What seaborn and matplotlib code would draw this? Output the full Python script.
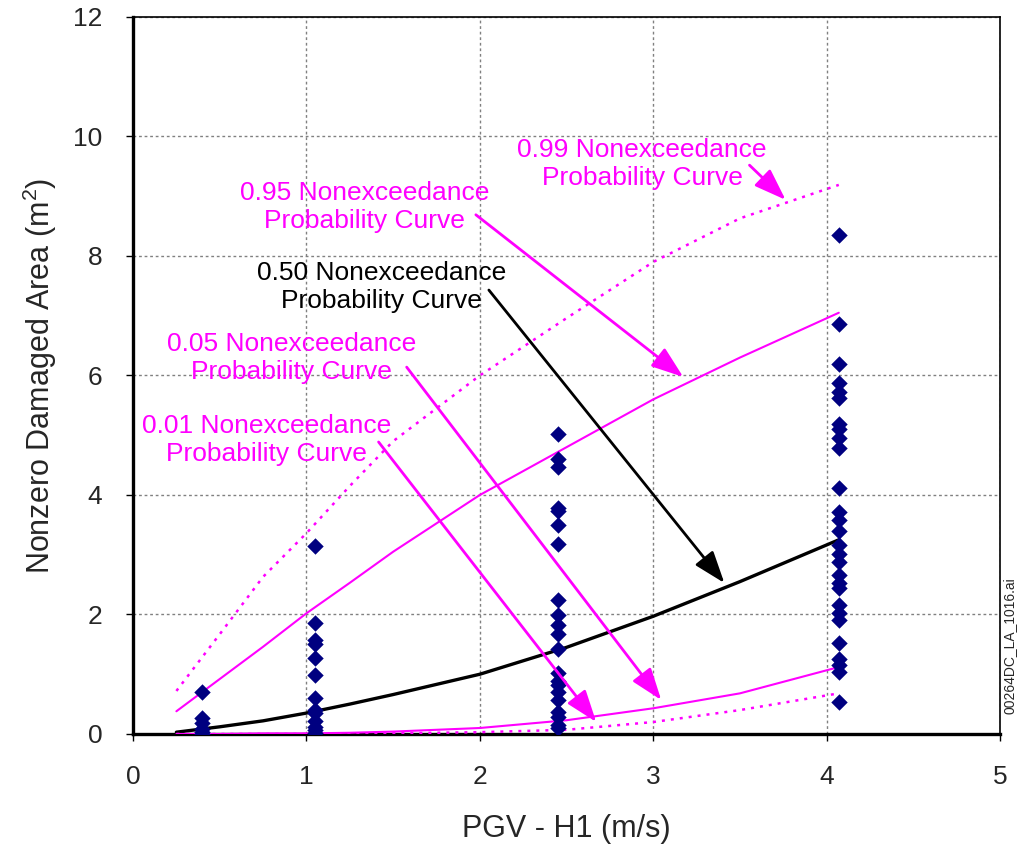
import matplotlib
matplotlib.use("Agg")
import matplotlib.pyplot as plt
import pandas as pd
import seaborn as sns

# PGV sites where damaged area was recorded
pgv_sites = [0.40, 1.05, 2.45, 4.07]
area_site1 = [0.71, 0.27, 0.18, 0.08, 0.03, 0.0]
area_site2 = [3.15, 1.85, 1.57, 1.50, 1.27, 0.99, 0.60, 0.40, 0.35, 0.22,
              0.12, 0.07, 0.02]
area_site3 = [5.02, 4.61, 4.46, 3.78, 3.74, 3.50, 3.18, 2.25, 1.99, 1.82,
              1.67, 1.43, 1.02, 0.88, 0.82, 0.71, 0.57, 0.36, 0.29, 0.15,
              0.10]
area_site4 = [8.35, 6.86, 6.19, 5.87, 5.73, 5.62, 5.19, 5.10, 4.95, 4.78,
              4.11, 3.72, 3.58, 3.39, 3.16, 3.02, 2.88, 2.66, 2.52, 2.44,
              2.16, 2.02, 1.91, 1.52, 1.25, 1.15, 1.04, 0.54]

# nonexceedance probability curves
curve_pgv = [0.25, 0.5, 0.75, 1.0, 1.25, 1.5, 2.0, 2.5, 3.0, 3.5, 4.07]
curve_p01 = [0.0, 0.0, 0.0, 0.0, 0.0, 0.01, 0.03, 0.07, 0.20, 0.40, 0.68]
curve_p05 = [0.0, 0.0, 0.01, 0.01, 0.02, 0.04, 0.10, 0.23, 0.43, 0.68, 1.12]
curve_p50 = [0.03, 0.12, 0.22, 0.35, 0.50, 0.66, 1.00, 1.45, 1.97, 2.55, 3.25]
curve_p95 = [0.38, 0.92, 1.46, 2.02, 2.53, 3.05, 4.00, 4.80, 5.60, 6.30, 7.05]
curve_p99 = [0.72, 1.67, 2.63, 3.36, 4.15, 4.90, 6.00, 6.96, 7.90, 8.63, 9.19]

x_ticks = [0, 1, 2, 3, 4, 5]
y_ticks = [0, 2, 4, 6, 8, 10, 12]

MAGENTA = "#FF00FF"
NAVY = "#000080"


def build_points() -> pd.DataFrame:
    rows = []
    for pgv, areas in zip(pgv_sites, [area_site1, area_site2, area_site3, area_site4]):
        for a in areas:
            rows.append({"pgv": pgv, "area": a})
    return pd.DataFrame(rows)


def main() -> None:
    sns.set_style("white")
    plt.rcParams["font.family"] = ["Liberation Sans", "DejaVu Sans"]
    plt.rcParams["mathtext.fontset"] = "custom"
    plt.rcParams["mathtext.rm"] = "Liberation Sans"

    fig = plt.figure(figsize=(10.21, 8.5), dpi=100)
    ax = fig.add_axes([0.1303, 0.1365, 0.8492, 0.8435])

    curves = pd.DataFrame({
        "pgv": curve_pgv,
        "p01": curve_p01,
        "p05": curve_p05,
        "p50": curve_p50,
        "p95": curve_p95,
        "p99": curve_p99,
    })
    dot = (0, (1.2, 2.4))
    sns.lineplot(data=curves, x="pgv", y="p99", ax=ax, color=MAGENTA, lw=1.8,
                 linestyle=dot, zorder=3)
    sns.lineplot(data=curves, x="pgv", y="p95", ax=ax, color=MAGENTA, lw=1.5, zorder=3)
    sns.lineplot(data=curves, x="pgv", y="p50", ax=ax, color="black", lw=2.4, zorder=3)
    sns.lineplot(data=curves, x="pgv", y="p05", ax=ax, color=MAGENTA, lw=1.5, zorder=3)
    sns.lineplot(data=curves, x="pgv", y="p01", ax=ax, color=MAGENTA, lw=1.8,
                 linestyle=dot, zorder=3)

    sns.scatterplot(data=build_points(), x="pgv", y="area", ax=ax, marker="D",
                    color=NAVY, s=70, edgecolor=NAVY, linewidth=0, zorder=4)

    # labels with arrows pointing at each curve
    notes = [
        ("0.99 Nonexceedance\nProbability Curve", (2.936, 9.54), (3.555, 9.52), (3.763, 8.94), MAGENTA),
        ("0.95 Nonexceedance\nProbability Curve", (1.335, 8.82), (1.977, 8.69), (3.173, 5.975), MAGENTA),
        ("0.50 Nonexceedance\nProbability Curve", (1.434, 7.48), (2.052, 7.43), (3.410, 2.527), "black"),
        ("0.05 Nonexceedance\nProbability Curve", (0.913, 6.29), (1.578, 6.14), (3.046, 0.569), MAGENTA),
        ("0.01 Nonexceedance\nProbability Curve", (0.769, 4.92), (1.416, 4.887), (2.671, 0.201), MAGENTA),
    ]
    for label, text_xy, tail, head, col in notes:
        ax.text(text_xy[0], text_xy[1], label, color=col, fontsize=19,
                ha="center", va="center", multialignment="center", zorder=5)
        ax.annotate("", xy=head, xytext=tail,
                    arrowprops=dict(arrowstyle="-|>,head_length=0.7,head_width=0.25",
                                    mutation_scale=28, color=col, lw=2,
                                    shrinkA=0, shrinkB=0),
                    zorder=5)

    ax.set_xlim(0, 5)
    ax.set_ylim(0, 12)
    ax.set_xticks(x_ticks)
    ax.set_yticks(y_ticks)
    ax.set_axisbelow(True)
    ax.grid(True, color="#808080", linestyle=(0, (2, 2)), linewidth=1)
    ax.tick_params(direction="out", length=5, width=1, labelsize=19, pad=17,
                   color="black", left=True, bottom=True)

    for side in ["left", "bottom"]:
        ax.spines[side].set_linewidth(2.4)
    for side in ["top", "right"]:
        ax.spines[side].set_linewidth(1.2)
    for sp in ax.spines.values():
        sp.set_color("black")
        sp.set_visible(True)

    ax.set_xlabel("PGV - H1 (m/s)", fontsize=22)
    ax.set_ylabel("Nonzero Damaged Area (m$^2$)", fontsize=22)
    ax.xaxis.set_label_coords(0.5, -0.112)
    ax.yaxis.set_label_coords(-0.085, 0.5)

    fig.text(0.989, 0.241, "00264DC_LA_1016.ai", rotation=90, fontsize=10,
             ha="center", va="center")

    fig.savefig("out.png", dpi=100)
    plt.close(fig)


if __name__ == "__main__":
    main()
